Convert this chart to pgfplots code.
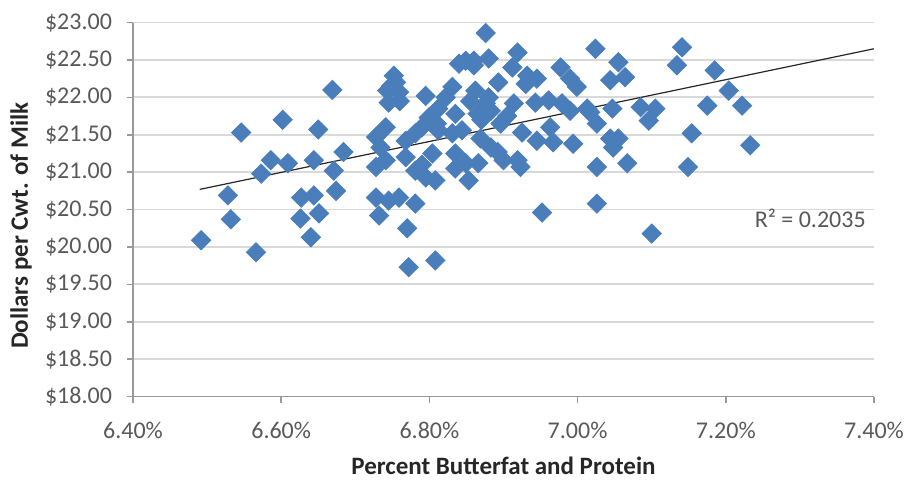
\documentclass[border=0pt]{standalone}
\usepackage{pgfplots}
\pgfplotsset{compat=1.18}
\usepackage{fontspec}
\setmainfont{Carlito}
\definecolor{mblue}{HTML}{4A7EBB}
\definecolor{tickgray}{HTML}{595959}
\definecolor{gridgray}{HTML}{D9D9D9}
\begin{document}
\begin{tikzpicture}
\begin{axis}[
  scale only axis, width=370.5pt, height=187pt,
  at={(0,0)}, anchor=south west,
  xmin=6.4, xmax=7.4, ymin=18, ymax=23,
  axis x line*=bottom, axis y line*=left,
  axis line style={draw=black!40, line width=0.8pt},
  xtick={6.4,6.6,6.8,7.0,7.2,7.4},
  ytick={18,18.5,19,19.5,20,20.5,21,21.5,22,22.5,23},
  ymajorgrids, grid style={gridgray, line width=0.9pt},
  tick align=outside, major tick length=3pt,
  tick style={black!40, line width=0.8pt},
  /pgf/number format/assume math mode=true,
  xticklabel={\pgfmathprintnumber[fixed,fixed zerofill,precision=2]{\tick}\%},
  yticklabel={\$\pgfmathprintnumber[fixed,fixed zerofill,precision=2]{\tick}},
  ticklabel style={font=\fontsize{12}{14}\selectfont, text=tickgray},
  xticklabel style={yshift=-6pt},
  yticklabel style={xshift=-4pt},
  xlabel={Percent Butterfat and Protein},
  ylabel={Dollars per Cwt. of Milk},
  every axis x label/.style={at={(axis description cs:0.5,-0.1845)}, anchor=center, font=\fontsize{12.5}{15}\selectfont\bfseries, text=black!85},
  every axis y label/.style={at={(axis description cs:-0.1511,0.457)}, anchor=center, rotate=90, font=\fontsize{12.5}{15}\selectfont\bfseries, text=black!85},
  clip=false,
]
\addplot[only marks, mark=square*, mark size=3.4pt, mark options={rotate=45, fill=mblue, draw=mblue}] table {
x y
6.492 20.09
6.528 20.69
6.532 20.37
6.546 21.53
6.566 19.93
6.573 20.98
6.586 21.16
6.602 21.70
6.609 21.12
6.627 20.66
6.626 20.38
6.640 20.13
6.644 20.69
6.644 21.16
6.650 21.57
6.651 20.45
6.669 22.10
6.671 21.02
6.674 20.75
6.684 21.27
6.876 22.86
6.849 22.49
6.840 22.45
6.860 22.43
6.752 22.29
6.743 22.09
6.759 22.07
6.745 21.93
6.795 22.02
6.831 22.14
6.822 22.00
6.862 22.09
6.812 21.85
6.799 21.73
6.835 21.78
6.741 21.60
6.728 21.47
6.734 21.33
6.781 21.52
6.768 21.42
6.790 21.60
6.844 21.56
6.831 21.52
6.812 21.56
6.728 21.07
6.741 21.16
6.768 21.20
6.781 21.02
6.795 20.93
6.808 20.89
6.804 21.25
6.835 21.25
6.849 21.12
6.853 20.89
6.866 21.12
6.728 20.66
6.745 20.62
6.759 20.66
6.732 20.42
6.781 20.58
6.770 20.25
6.772 19.73
6.808 19.82
6.860 22.49
6.880 22.52
6.919 22.60
6.912 22.40
6.932 22.29
6.945 22.25
6.930 22.18
6.893 22.20
6.977 22.40
6.990 22.25
6.999 22.14
7.024 22.65
6.876 21.92
6.883 21.82
6.865 21.78
6.914 21.92
6.943 21.93
6.961 21.96
6.979 21.92
6.990 21.82
7.013 21.85
6.896 21.65
6.925 21.53
6.963 21.60
6.945 21.42
6.967 21.40
6.994 21.38
7.026 21.65
6.869 21.45
6.883 21.33
6.892 21.27
6.900 21.16
6.919 21.16
6.923 21.07
6.952 20.46
7.026 21.07
7.026 20.58
7.055 22.47
7.044 22.23
7.064 22.27
7.141 22.67
7.134 22.43
7.185 22.36
7.204 22.09
7.222 21.89
7.175 21.89
7.047 21.85
7.017 21.80
7.085 21.87
7.105 21.85
7.096 21.69
7.044 21.45
7.055 21.45
7.048 21.33
7.154 21.52
7.233 21.36
7.067 21.12
7.149 21.07
7.100 20.18
6.880 22.00
6.870 21.70
6.855 21.95
6.905 21.75
6.810 21.65
6.790 21.10
6.760 21.95
6.835 21.05
6.755 22.20
6.748 22.15
};
\addplot[black!85, line width=0.6pt, no marks] coordinates {(6.490,20.77) (7.40,22.65)};
\node[font=\fontsize{12}{14}\selectfont, text=tickgray] at (axis cs:7.314,20.38) {R² = 0.2035};
\end{axis}
\pgfresetboundingbox
\path (-66.5pt,-41.5pt) rectangle (388.5pt,198.3pt);
\end{tikzpicture}
\end{document}
